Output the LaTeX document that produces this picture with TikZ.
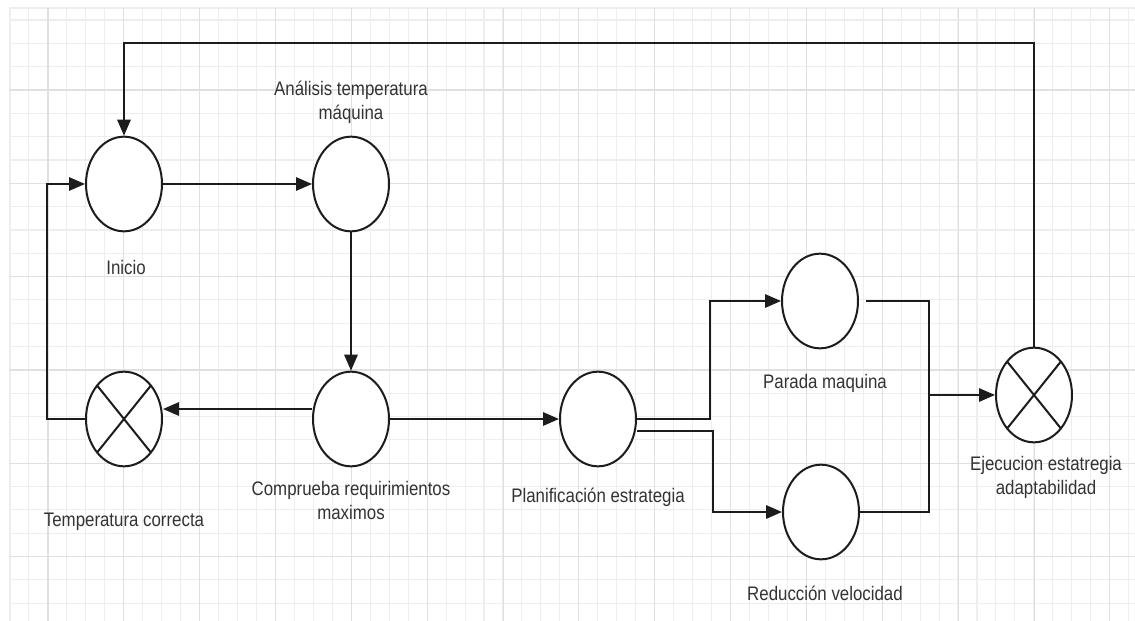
\documentclass[tikz,border=0pt]{standalone}
\usepackage{fontspec}
\setmainfont{Liberation Sans}[FakeStretch=0.86]
\usepackage{tikz}
\usetikzlibrary{positioning, arrows.meta, shapes.geometric, calc}

\definecolor{linea}{HTML}{1C1C1C}
\definecolor{texto}{HTML}{333333}
\definecolor{rejilla}{HTML}{EEEEEE}
\definecolor{rejillaf}{HTML}{E0E0E0}

\tikzset{
    estado/.style={ellipse, draw=linea, line width=1.5pt, fill=white,
        minimum width=57pt, minimum height=71pt, inner sep=0pt},
    cruce/.style={estado, path picture={
        \draw[linea, line width=1.5pt]
            (path picture bounding box.south west) -- (path picture bounding box.north east)
            (path picture bounding box.north west) -- (path picture bounding box.south east);}},
    etiqueta/.style={text=texto, align=center, inner sep=0pt,
        font=\fontsize{14.7}{18}\selectfont},
    conector/.style={draw=linea, line width=1.5pt},
    flecha/.style={conector, -{Triangle[length=12pt, width=10pt]}}
}

\begin{document}
\begin{tikzpicture}[x=0.75pt, y=-0.75pt]
\useasboundingbox (0,0) rectangle (1135,621);
% Fondo cuadriculado
\begin{scope}
    \fill[white] (0,0) rectangle (1135,621);
    \foreach \i in {0,...,59}
        \draw[rejilla, line width=0.8pt] ({10+18.96*\i},8) -- ({10+18.96*\i},621);
    \foreach \j in {0,...,25}
        \draw[rejilla, line width=0.8pt] (9,{20+23.33*\j}) -- (1135,{20+23.33*\j});
    \draw[rejilla, line width=0.8pt] (9,8) -- (1135,8);
    \foreach \i in {0,...,14}
        \draw[rejillaf, line width=0.8pt] ({48+75.85*\i},8) -- ({48+75.85*\i},621);
    \foreach \j in {0,...,5}
        \draw[rejillaf, line width=0.8pt] (9,{90+93.33*\j}) -- (1135,{90+93.33*\j});
\end{scope}

% Estados
\node[estado] (ini) at (124,184) {};
\node[estado] (ana) at (351,184) {};
\node[estado] (comp) at (351,419) {};
\node[cruce] (tcor) at (124,419) {};
\node[estado] (plan) at (598,419) {};
\node[estado] (par) at (820,301) {};
\node[estado] (red) at (821,512) {};
\node[cruce] (ejec) at (1034,395) {};

% Etiquetas
\node[etiqueta] (l-ana) at (351,102) {Análisis temperatura\\máquina};
\node[etiqueta] (l-ini) at (126,267) {Inicio};
\node[etiqueta] (l-tcor) at (124,522) {Temperatura correcta};
\node[etiqueta] (l-comp) at (351,500) {Comprueba requirimientos\\maximos};
\node[etiqueta] (l-plan) at (598,497) {Planificación estrategia};
\node[etiqueta] (l-par) at (825,383) {Parada maquina};
\node[etiqueta] (l-red) at (825,593) {Reducción velocidad};
\node[etiqueta] (l-ejec) at (1046,477) {Ejecucion estatregia\\adaptabilidad};

% Conexiones
\coordinate (tope) at (600,43);
\coordinate (union) at (929,395);
\draw[flecha] (ejec.north) |- (tope) -| (ini.north);
\draw[flecha] (ini) -- (ana);
\draw[flecha] (ana) -- (comp);
\draw[flecha] ([yshift=7.5pt]comp.west) -- ([yshift=7.5pt]tcor.east);
\draw[flecha] (tcor.west) -- ++(-38,0) |- (ini.west);
\draw[flecha] (comp) -- (plan);
\draw[flecha] (plan.east) -- ++(73,0) |- (par.west);
\draw[flecha] ([yshift=-9pt]plan.east) -- ++(76,0) |- (red.west);
\draw[conector] ([xshift=5pt]par.east) -| (union);
\draw[conector] (red.east) -| (union);
\draw[flecha] (union) -- (ejec.west);
\end{tikzpicture}
\end{document}
